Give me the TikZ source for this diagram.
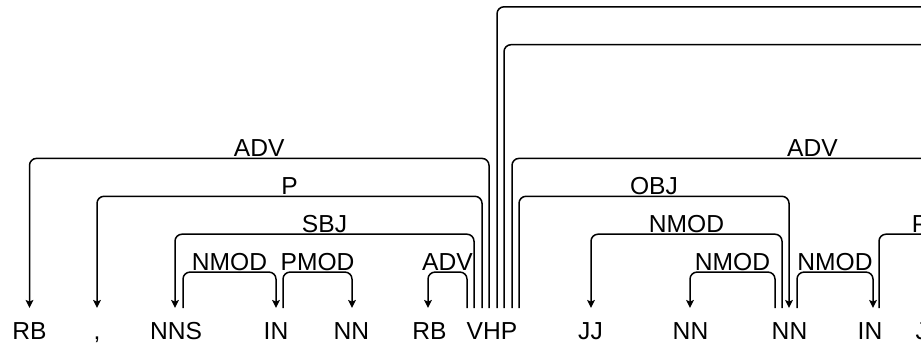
\documentclass[tikz,border=0pt]{standalone}
\usepackage{fontspec}
\setmainfont{Liberation Sans}
\usetikzlibrary{calc,arrows.meta}
\tikzset{
	word/.style={anchor=base, inner sep=0pt, font=\fontsize{12.3}{14}\selectfont},
	deplabel/.style={anchor=base, inner sep=0pt, yshift=1pt, font=\fontsize{12.3}{14}\selectfont},
	deprel/.style={line width=0.75pt, rounded corners=3.5pt, -{Stealth[length=4pt,width=3.8pt,inset=0.8pt]}}
}
\def\deparc(#1:#2)(#3:#4)(#5:#6){%
	\path ($(#1)+(#2,-31)$) coordinate (hd) ($(#3)+(#4,-31)$) coordinate (dp);
	\draw[deprel] (hd) -- (hd |- lev#5) -- node[deplabel] {#6} (dp |- lev#5) -- (dp);}

\begin{document}
\begin{tikzpicture}[x=0.5pt, y=-0.5pt]
			%%%%% START %%%%%
			\useasboundingbox (0, 0) rectangle (921, 344);
			\clip (0, 0) rectangle (921, 344);
			
			\foreach \l in {1,...,8}
				\coordinate (lev\l) at (0, {310-37.9*\l});
			
			\node[word] (rb1) at (29.5, 339) {RB};
			\node[word] (comma) at (97, 339) {,};
			\node[word] (nns) at (176, 339) {NNS};
			\node[word] (in1) at (276, 339) {IN};
			\node[word] (nn1) at (351.5, 339) {NN};
			\node[word] (rb2) at (429.5, 339) {RB};
			\node[word] (vhp) at (492, 339) {VHP};
			\node[word] (jj1) at (590.5, 339) {JJ};
			\node[word] (nn2) at (690.5, 339) {NN};
			\node[word] (nn3) at (789.5, 339) {NN};
			\node[word] (in2) at (870, 339) {IN};
			\node[word] (jj2) at (928, 339) {JJ};
			
			% ends beyond the right edge
			\coordinate (far1) at (1500, 339);
			\coordinate (far2) at (1400, 339);
			\coordinate (far3) at (1113, 339);
			\coordinate (far4) at (961, 339);
			
			\deparc(vhp.base:-3)(rb1.base:0)(4:ADV)
			\deparc(vhp.base:-10)(comma.base:0)(3:P)
			\deparc(vhp.base:-18)(nns.base:-1)(2:SBJ)
			\deparc(nns.base:7)(in1.base:0)(1:NMOD)
			\deparc(in1.base:7)(nn1.base:0.5)(1:PMOD)
			\deparc(vhp.base:-25)(rb2.base:-1.5)(1:ADV)
			
			\deparc(vhp.base:5)(far1:0)(8:{})
			\deparc(vhp.base:12)(far2:0)(7:{})
			\deparc(vhp.base:20)(far3:0)(4:ADV)
			\deparc(vhp.base:27)(nn3.base:-0.5)(3:OBJ)
			
			\deparc(nn3.base:-7.5)(jj1.base:0.5)(2:NMOD)
			\deparc(nn3.base:-14.5)(nn2.base:-0.5)(1:NMOD)
			\deparc(nn3.base:7.5)(in2.base:3)(1:NMOD)
			\deparc(in2.base:9)(far4:0)(2:P)
			
			%%%%% END %%%%%
\end{tikzpicture}
\end{document}
